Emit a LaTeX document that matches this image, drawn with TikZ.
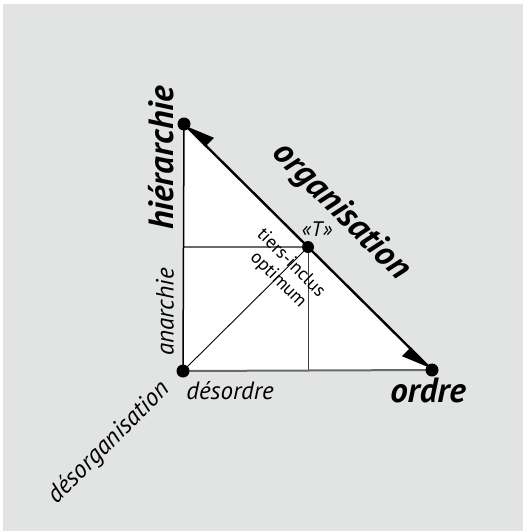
\documentclass[tikz,border=0pt]{standalone}
\usepackage{fontspec}
\setmainfont{PT Sans}
\usetikzlibrary{arrows.meta}
\definecolor{bggray}{HTML}{E2E3E3}
\definecolor{edgegray}{HTML}{6A6A6A}
\tikzset{
  dot/.style={circle,fill=black,inner sep=0pt,minimum size=13pt},
  bigbi/.style={font=\fontsize{35}{35}\selectfont\bfseries\itshape,inner sep=0pt},
  medit/.style={font=\fontsize{25}{25}\selectfont\itshape,inner sep=0pt},
  smallup/.style={font=\fontsize{18.5}{18.5}\selectfont,inner sep=0pt},
  hyp/.style={line width=2.4pt,draw=black},
  harp/.style={-{Triangle[harpoon,swap,length=28pt,width=22pt]}}
}
\begin{document}
\begin{tikzpicture}[x=1pt,y=-1pt]
\useasboundingbox (0,0) rectangle (523,531);
\fill[bggray] (3,4) rectangle (523,531);
% corner points
\coordinate (Oc) at (183,371);
\coordinate (Hc) at (184,124);
\coordinate (Rc) at (432,370);
\coordinate (Tc) at (308,247);
\coordinate (L) at (183.5,247);
\coordinate (B) at (308,370.5);
\fill[white] (Oc) -- (Hc) -- (Rc) -- cycle;
% inner lines
\draw[edgegray,line width=1.6pt] (L) -- (Tc);
\draw[black!75,line width=1pt] (Tc) -- (B);
\draw[black,line width=0.9pt] (Oc) -- (Tc);
% edges
\draw[edgegray,line width=2pt] (Oc) -- (Rc);
\draw[black,line width=1.5pt] (Oc) -- (Hc);
\draw[hyp,harp] (Tc) -- (Hc);
\draw[hyp,harp] (Tc) -- (Rc);
% dots
\node[dot] (O) at (Oc) {};
\node[dot] (H) at (Hc) {};
\node[dot] (R) at (Rc) {};
\node[dot,minimum size=12pt] (T) at (Tc) {};
% labels
\node[bigbi,rotate=90] (lh) at (161,158) {hiérarchie};
\node[bigbi,rotate=-45] (lorg) at (341,212) {organisation};
\node[bigbi] (lord) at (428,390) {ordre};
\node[medit,rotate=90] (lan) at (165,312) {anarchie};
\node[medit] (ldes) at (230,391) {désordre};
\node[medit,rotate=45] (ldorg) at (109,443) {désorganisation};
\node[font=\fontsize{21}{21}\selectfont\itshape,inner sep=0pt] (lT) at (317,229) {«T»};
\node[smallup,rotate=-45] (lti) at (292,262) {tiers-inclus};
\node[smallup,rotate=-45] (lopt) at (278,280) {optimum};
\end{tikzpicture}
\end{document}
